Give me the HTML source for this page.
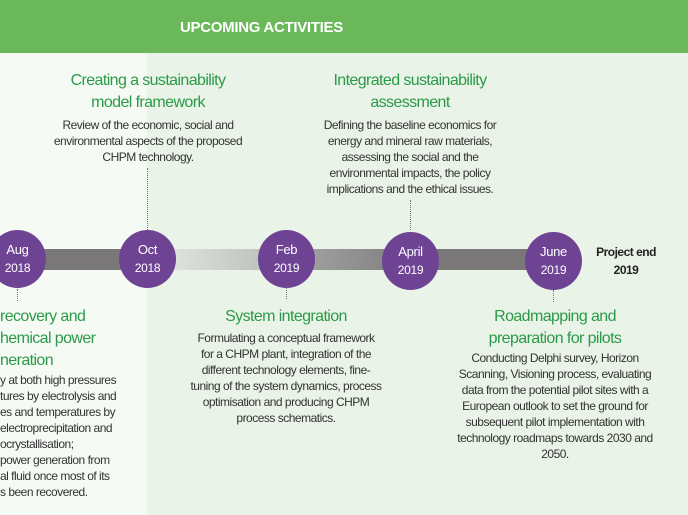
<!DOCTYPE html>
<html><head><meta charset="utf-8"><style>
*{margin:0;padding:0;box-sizing:border-box}
body{width:688px;height:515px;overflow:hidden;position:relative;background:#eaf3e7;font-family:"Liberation Sans",sans-serif}
.hdr{position:absolute;left:0;top:0;width:688px;height:53px;background:#6bb85b;color:#fff;font-weight:bold;font-size:15px;letter-spacing:-0.3px}
.lp{position:absolute;left:0;top:53px;width:147px;height:462px;background:#f5faf4}
.blk{position:absolute;text-align:center;color:#333;font-size:12px;line-height:16px;letter-spacing:-0.5px;white-space:nowrap}
.t{color:#2a9a48;font-size:16px;line-height:22px;letter-spacing:-0.6px}
.bar{position:absolute;top:249px;height:21px}
.c{position:absolute;width:57px;height:58px;border-radius:50%;background:#6f4394;color:#fff;text-align:center;font-size:12px;line-height:18px;padding-top:11px;letter-spacing:-0.3px}
.c b{font-weight:normal;font-size:13px}
.d{position:absolute;width:0;border-left:1px dotted #777}
</style></head><body>
<div class="hdr"><span style="position:absolute;left:180px;top:19px">UPCOMING ACTIVITIES</span></div>
<div class="lp"></div>

<div class="bar" style="left:0;width:147px;background:#7a7778"></div>
<div class="bar" style="left:147px;width:140px;background:linear-gradient(90deg,#e6ebe6,#b6bbb6)"></div>
<div class="bar" style="left:286px;width:125px;background:linear-gradient(90deg,#a7a7a7,#7f7e7e)"></div>
<div class="bar" style="left:410px;width:144px;background:#7a7778"></div>

<div class="d" style="left:147px;top:168px;height:62px"></div>
<div class="d" style="left:410px;top:200px;height:30px"></div>
<div class="d" style="left:17px;top:289px;height:12px"></div>
<div class="d" style="left:286px;top:287px;height:12px"></div>
<div class="d" style="left:553px;top:290px;height:12px"></div>

<div class="c" style="left:-11px;top:230px"><b>Aug</b><br>2018</div>
<div class="c" style="left:119px;top:230px"><b>Oct</b><br>2018</div>
<div class="c" style="left:258px;top:230px"><b>Feb</b><br>2019</div>
<div class="c" style="left:382px;top:232px"><b>April</b><br>2019</div>
<div class="c" style="left:525px;top:232px"><b>June</b><br>2019</div>
<div class="blk" style="left:586px;top:243px;width:80px;font-weight:bold;color:#222;line-height:18px;font-size:12px">Project end<br>2019</div>

<div class="blk" style="left:28px;top:70px;width:240px"><div class="t">Creating a sustainability<br>model framework</div><div style="padding-top:3px">Review of the economic, social and<br>environmental aspects of the proposed<br>CHPM technology.</div></div>

<div class="blk" style="left:290px;top:70px;width:240px"><div class="t">Integrated sustainability<br>assessment</div><div style="padding-top:3px">Defining the baseline economics for<br>energy and mineral raw materials,<br>assessing the social and the<br>environmental impacts, the policy<br>implications and the ethical issues.</div></div>

<div class="blk" style="left:166px;top:306px;width:240px"><div class="t">System integration</div><div style="padding-top:2px">Formulating a conceptual framework<br>for a CHPM plant, integration of the<br>different technology elements, fine-<br>tuning of the system dynamics, process<br>optimisation and producing CHPM<br>process schematics.</div></div>

<div class="blk" style="left:435px;top:306px;width:240px"><div class="t">Roadmapping and<br>preparation for pilots</div>Conducting Delphi survey, Horizon<br>Scanning, Visioning process, evaluating<br>data from the potential pilot sites with a<br>European outlook to set the ground for<br>subsequent pilot implementation with<br>technology roadmaps towards 2030 and<br>2050.</div>

<div class="blk" style="left:0;top:306px;width:147px;text-align:left;overflow:hidden"><div class="t">recovery and<br>hemical power<br>neration</div>y at both high pressures<br>tures by electrolysis and<br>es and temperatures by<br>electroprecipitation and<br>ocrystallisation;<br>power generation from<br>al fluid once most of its<br>s been recovered.</div>
</body></html>
